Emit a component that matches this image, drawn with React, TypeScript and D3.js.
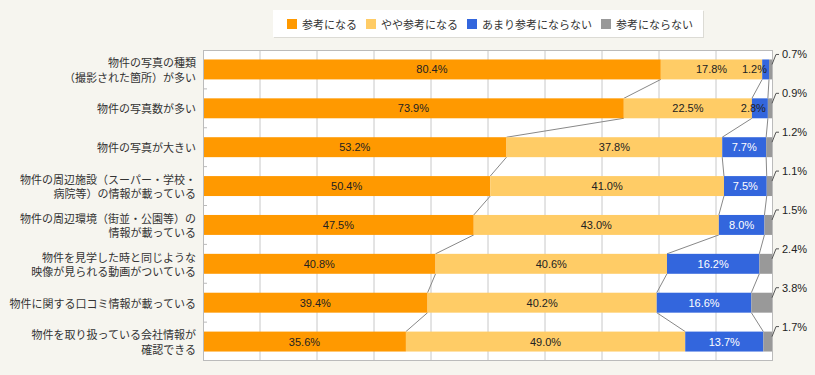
import React, { useEffect, useRef } from "react";
import * as d3 from "d3";

// survey items (y axis)
const categories = [
  ["物件の写真の種類", "（撮影された箇所）が多い"],
  ["物件の写真数が多い"],
  ["物件の写真が大きい"],
  ["物件の周辺施設（スーパー・学校・", "病院等）の情報が載っている"],
  ["物件の周辺環境（街並・公園等）の", "情報が載っている"],
  ["物件を見学した時と同じような", "映像が見られる動画がついている"],
  ["物件に関する口コミ情報が載っている"],
  ["物件を取り扱っている会社情報が", "確認できる"],
];

const seriesNames = ["参考になる", "やや参考になる", "あまり参考にならない", "参考にならない"];
const seriesColors = ["#ff9900", "#ffcc66", "#3366dd", "#999999"];

// percentages per series, in category order
const helpful = [80.4, 73.9, 53.2, 50.4, 47.5, 40.8, 39.4, 35.6];
const somewhatHelpful = [17.8, 22.5, 37.8, 41.0, 43.0, 40.6, 40.2, 49.0];
const notVeryHelpful = [1.2, 2.8, 7.7, 7.5, 8.0, 16.2, 16.6, 13.7];
const notHelpful = [0.7, 0.9, 1.2, 1.1, 1.5, 2.4, 3.8, 1.7];

const xTicks = [0, 10, 20, 30, 40, 50, 60, 70, 80, 90, 100];

const W = 815;
const H = 375;
const margin = { top: 50, right: 42, bottom: 14, left: 203 };
const BG = "#f6f5ef";
const JP = "'Noto Sans CJK JP', 'Noto Sans', sans-serif";
const NUM = "'Liberation Sans', Arial, sans-serif";

interface Row {
  name: string[];
  values: number[];
  starts: number[];
  ends: number[];
}

export default function App() {
  const ref = useRef<SVGSVGElement>(null);

  useEffect(() => {
    const svg = d3.select(ref.current);
    svg.selectAll("*").remove();

    const series = [helpful, somewhatHelpful, notVeryHelpful, notHelpful];
    const rows: Row[] = categories.map((name, i) => {
      const values = series.map((s) => s[i]);
      const total = d3.sum(values);
      const starts: number[] = [];
      const ends: number[] = [];
      let acc = 0;
      values.forEach((v) => {
        starts.push((acc / total) * 100);
        acc += v;
        ends.push((acc / total) * 100);
      });
      return { name, values, starts, ends };
    });

    const innerW = W - margin.left - margin.right;
    const innerH = H - margin.top - margin.bottom;

    const x = d3.scaleLinear().domain([0, 100]).range([margin.left, margin.left + innerW]);
    const y = d3
      .scaleBand<number>()
      .domain(d3.range(rows.length))
      .range([margin.top, margin.top + innerH])
      .paddingInner(0.487)
      .paddingOuter(0.2435);
    const bw = y.bandwidth();

    svg.append("rect").attr("width", W).attr("height", H).attr("fill", BG);

    // legend box
    const legend = svg.append("g");
    legend
      .append("rect")
      .attr("x", 274)
      .attr("y", 11)
      .attr("width", 430)
      .attr("height", 27)
      .attr("fill", "#dcdbd5");
    legend
      .append("rect")
      .attr("x", 273)
      .attr("y", 10)
      .attr("width", 430)
      .attr("height", 27)
      .attr("fill", "#ffffff");
    let lx = 287;
    seriesNames.forEach((name, i) => {
      legend
        .append("rect")
        .attr("x", lx)
        .attr("y", 19)
        .attr("width", 10)
        .attr("height", 10)
        .attr("fill", seriesColors[i]);
      legend
        .append("text")
        .attr("x", lx + 15)
        .attr("y", 24)
        .attr("dominant-baseline", "central")
        .attr("font-family", JP)
        .attr("font-size", 11)
        .attr("fill", "#333")
        .text(name);
      lx += 15 + name.length * 11 + 9;
    });

    // plot background and grid
    svg
      .append("rect")
      .attr("x", margin.left)
      .attr("y", margin.top)
      .attr("width", innerW)
      .attr("height", innerH)
      .attr("fill", "#ffffff");
    svg
      .append("g")
      .selectAll("line")
      .data(xTicks.slice(1, -1))
      .join("line")
      .attr("x1", (d) => x(d))
      .attr("x2", (d) => x(d))
      .attr("y1", margin.top)
      .attr("y2", margin.top + innerH)
      .attr("stroke", "#c8c8c8")
      .attr("stroke-width", 1);

    // small ticks between categories
    svg
      .append("g")
      .selectAll("line")
      .data(d3.range(1, rows.length))
      .join("line")
      .attr("x1", margin.left)
      .attr("x2", margin.left + 4)
      .attr("y1", (i) => margin.top + y.step() * i)
      .attr("y2", (i) => margin.top + y.step() * i)
      .attr("stroke", "#bbbbbb");

    // connectors between neighbouring bars
    const links = svg.append("g");
    rows.slice(0, -1).forEach((row, i) => {
      const next = rows[i + 1];
      [0, 1, 2].forEach((j) => {
        links
          .append("line")
          .attr("x1", x(row.ends[j]))
          .attr("y1", (y(i) as number) + bw)
          .attr("x2", x(next.ends[j]))
          .attr("y2", y(i + 1) as number)
          .attr("stroke", "#888888")
          .attr("stroke-width", 1);
      });
    });

    // stacked bars
    const bars = svg.append("g");
    rows.forEach((row, i) => {
      row.values.forEach((_, j) => {
        bars
          .append("rect")
          .attr("x", x(row.starts[j]))
          .attr("y", y(i) as number)
          .attr("width", x(row.ends[j]) - x(row.starts[j]))
          .attr("height", bw)
          .attr("fill", seriesColors[j]);
      });
    });

    // frame
    svg
      .append("rect")
      .attr("x", margin.left + 0.5)
      .attr("y", margin.top + 0.5)
      .attr("width", innerW - 1)
      .attr("height", innerH - 1)
      .attr("fill", "none")
      .attr("stroke", "#bbbbbb");

    // value labels
    const labels = svg.append("g").attr("font-family", NUM).attr("font-size", 11);
    rows.forEach((row, i) => {
      const cy = (y(i) as number) + bw / 2;
      [0, 1, 2].forEach((j) => {
        const x0 = x(row.starts[j]);
        const x1 = x(row.ends[j]);
        const txt = row.values[j].toFixed(1) + "%";
        const narrow = x1 - x0 < 30;
        labels
          .append("text")
          .attr("x", narrow ? x1 - 2 : (x0 + x1) / 2)
          .attr("y", cy)
          .attr("text-anchor", narrow ? "end" : "middle")
          .attr("dominant-baseline", "central")
          .attr("fill", j === 2 && !narrow ? "#ffffff" : "#222222")
          .text(txt);
      });
      // the smallest share gets an outside label with a leader line
      const top = y(i) as number;
      const right = x(100);
      labels
        .append("path")
        .attr(
          "d",
          `M${right - 1},${top + 5} L${right + 3},${top - 5} L${right + 6},${top - 5}`
        )
        .attr("fill", "none")
        .attr("stroke", "#555555")
        .attr("stroke-width", 1);
      labels
        .append("text")
        .attr("x", right + 9)
        .attr("y", top - 5)
        .attr("dominant-baseline", "central")
        .attr("fill", "#222222")
        .text(row.values[3].toFixed(1) + "%");
    });

    // category labels
    const cats = svg.append("g").attr("font-family", JP).attr("font-size", 11).attr("fill", "#333");
    rows.forEach((row, i) => {
      const cy = (y(i) as number) + bw / 2;
      const lh = 14.5;
      row.name.forEach((line, k) => {
        cats
          .append("text")
          .attr("x", margin.left - 7)
          .attr("y", cy + (k - (row.name.length - 1) / 2) * lh)
          .attr("text-anchor", "end")
          .attr("dominant-baseline", "central")
          .text(line);
      });
    });
  }, []);

  return (
    <svg
      ref={ref}
      width={W}
      height={H}
      style={{ position: "absolute", left: 0, top: 0, display: "block" }}
    />
  );
}
